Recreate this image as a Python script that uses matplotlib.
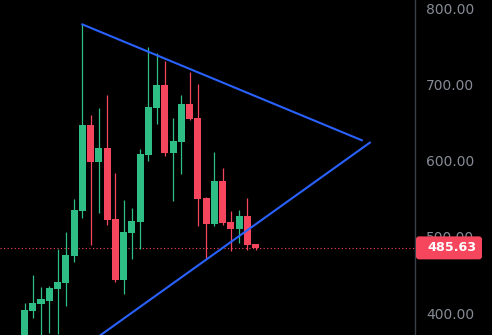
import numpy as np
import matplotlib
matplotlib.use("Agg")
import matplotlib.pyplot as plt
from matplotlib.patches import FancyBboxPatch
from matplotlib.transforms import IdentityTransform

# OHLC values
opens  = [362, 402.9, 412.0, 416.1, 431.6, 439.5, 474.9, 534.0, 646.9, 598.3,
          616.7, 523.5, 443.4, 505.1, 519.6, 607.5, 669.2, 699.3, 610.1, 624.5,
          674.4, 656.0, 551.1, 517.0, 573.4, 519.6, 510.4, 527.5, 490.7]
highs  = [413.3, 450.1, 434.3, 435.6, 484.1, 506.4, 549.8, 779.4, 660.0, 669.2,
          686.3, 583.9, 548.4, 537.9, 615.4, 749.2, 741.3, 730.8, 656.0, 686.3,
          716.4, 700.6, 552.4, 611.4, 590.4, 534.0, 535.3, 551.1, 490.7]
lows   = [355, 393.6, 365, 373.9, 372.6, 409.3, 467.1, 524.8, 489.4, 531.4,
          515.6, 440.8, 425.1, 471.0, 484.1, 599.6, 648.2, 606.2, 547.1, 582.6,
          653.4, 514.3, 471.0, 514.3, 515.6, 481.5, 492.0, 482.8, 482.8]
closes = [404.3, 413.3, 418.6, 432.4, 440.8, 476.2, 535.3, 646.9, 598.3, 616.7,
          522.2, 443.4, 506.4, 520.9, 608.8, 670.5, 699.3, 610.1, 625.9, 674.4,
          654.7, 549.7, 517.0, 573.4, 518.3, 510.4, 527.5, 489.4, 485.63]

# triangle trend lines (candle index, price)
upper_x = [6.9, 41.0]
upper_y = [779.4, 626.3]
lower_x = [5.0, 41.96]
lower_y = [338.5, 624.5]

last_price = 485.63
yticks = [400, 500, 600, 700, 800]

green = "#2ebd85"
red = "#f6465d"
blue = "#2962ff"
bg = "#000000"

fig = plt.figure(figsize=(4.92, 3.35), dpi=100, facecolor=bg)
ax = fig.add_axes([0, 0, 415 / 492, 1])
ax.set_facecolor(bg)

x = np.arange(len(opens))
for i in x:
    o, h, l, c = opens[i], highs[i], lows[i], closes[i]
    col = green if c >= o else red
    ax.vlines(i, l, h, color=col, linewidth=0.9, zorder=2)
    ax.bar(i, abs(c - o), bottom=min(o, c), width=0.85, color=col,
           linewidth=0, zorder=3)

ax.plot(upper_x, upper_y, color=blue, linewidth=1.5, solid_capstyle="butt", zorder=4)
ax.plot(lower_x, lower_y, color=blue, linewidth=1.5, solid_capstyle="butt", zorder=4)

ax.axhline(last_price, color=red, linewidth=0.8, linestyle=(0, (1, 2.2)), zorder=1)

ax.set_xlim(-2.97, 47.33)
ax.set_ylim(371.3, 810.9)

ax.yaxis.tick_right()
ax.set_yticks(yticks)
ax.set_yticklabels([f"{v:.2f}" for v in yticks])
ax.tick_params(axis="y", length=0, pad=8, labelsize=10, labelcolor="#868b95")
ax.set_xticks([])
for s in ["top", "bottom", "left"]:
    ax.spines[s].set_visible(False)
ax.spines["right"].set_color("#3a3e49")
ax.spines["right"].set_linewidth(1)

# last price tag on the axis (pixel coordinates, origin bottom-left)
fig.canvas.draw()
tag_y = ax.transData.transform((0, last_price))[1]
tag = FancyBboxPatch((416, tag_y - 11.5), 66, 23,
                     boxstyle="round,pad=0,rounding_size=3",
                     transform=IdentityTransform(), fc=red, ec="none",
                     zorder=10, figure=fig)
fig.patches.append(tag)
fig.text(427 / 492, tag_y / 335, f"{last_price:.2f}", color="white",
         fontsize=9.2, fontweight="bold", va="center", ha="left", zorder=11)

fig.savefig("out.png", dpi=100, facecolor=bg)
